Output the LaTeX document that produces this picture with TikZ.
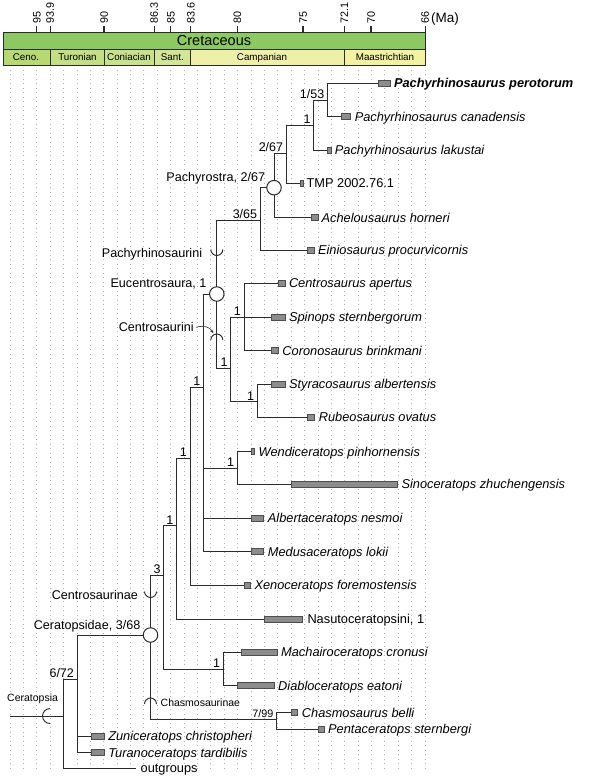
\documentclass[tikz,border=0pt]{standalone}
\usepackage{fontspec}
\setmainfont{Liberation Sans}
\usetikzlibrary{arrows.meta}
\definecolor{linec}{HTML}{2B2B2B}
\definecolor{gridc}{HTML}{B0B0B0}
\definecolor{rngfill}{HTML}{8C8C8C}
\definecolor{rngdraw}{HTML}{4D4D4D}
\definecolor{cret}{HTML}{8CC963}
\definecolor{ceno}{HTML}{B7D873}
\definecolor{turo}{HTML}{C4DE86}
\definecolor{coni}{HTML}{C9E18C}
\definecolor{sant}{HTML}{D3E697}
\definecolor{camp}{HTML}{EEEFA8}
\definecolor{maas}{HTML}{F2F2A2}
\begin{document}
\begin{tikzpicture}[x=1pt,y=-1pt,
 br/.style={draw=linec,line width=0.95pt},
 rng/.style={rectangle,draw=rngdraw,fill=rngfill,line width=0.5pt,minimum height=6pt,inner sep=0pt,anchor=west},
 tax/.style={anchor=west,inner sep=0pt,text height=9.2pt,text depth=0pt,font=\fontsize{12.8}{14}\selectfont\itshape},
 taxb/.style={tax,font=\fontsize{12.8}{14}\selectfont\bfseries\itshape},
 upl/.style={anchor=west,inner sep=0pt,text height=9.2pt,text depth=0pt,font=\fontsize{12.8}{14}\selectfont},
 clade/.style={anchor=east,inner sep=0pt,text height=9.2pt,text depth=0pt,font=\fontsize{12.6}{14}\selectfont},
 small/.style={inner sep=0pt,text height=7.5pt,text depth=0pt,font=\fontsize{10.5}{12}\selectfont},
 num/.style={anchor=south east,inner sep=0pt,font=\fontsize{12.5}{14}\selectfont},
 numsmall/.style={num,font=\fontsize{10.8}{12}\selectfont},
 ncirc/.style={circle,draw=linec,fill=white,line width=1pt,minimum size=14.5pt,inner sep=0pt},
 mrk/.style={draw=linec,line width=0.95pt},
 gridl/.style={draw=gridc,line width=0.6pt,dash pattern=on 1pt off 3.5pt},
 stagebox/.style={draw=linec,line width=0.8pt},
 stagetxt/.style={inner sep=0pt,text height=7pt,text depth=0pt,font=\fontsize{9.8}{11}\selectfont},
 ticktxt/.style={rotate=90,anchor=west,inner sep=0pt,text height=7.7pt,text depth=0pt,font=\fontsize{10.8}{12}\selectfont},
 pics/cupm/.style={code={\draw[mrk] (-6,0) .. controls (-6,3.3) and (-3.3,6) .. (0,6) .. controls (3.3,6) and (6,3.3) .. (6,0);}},
 pics/capm/.style={code={\draw[mrk] (-6,0) .. controls (-6,-3.3) and (-3.3,-6) .. (0,-6) .. controls (3.3,-6) and (6,-3.3) .. (6,0);}},
 pics/lparm/.style={code={\draw[mrk] (0,-7.5) .. controls (-4.1,-7.5) and (-7.5,-4.1) .. (-7.5,0) .. controls (-7.5,4.1) and (-4.1,7.5) .. (0,7.5);}}
]
\useasboundingbox (0,0) rectangle (600,778);

% grid
\foreach \m in {66,...,97}{\draw[gridl] ({36.7+(95-\m)*13.386},70) -- ({36.7+(95-\m)*13.386},770);}

% time scale
\filldraw[stagebox,fill=cret] (3,32.3) rectangle (425,49.3);
\node[inner sep=0pt,font=\fontsize{14.5}{16}\selectfont] (cretlab) at (214,41) {Cretaceous};
\foreach \a/\b/\c in {3/50/ceno,50/104/turo,104/154/coni,154/190.7/sant,190.7/344.3/camp,344.3/425/maas}{
  \filldraw[stagebox,fill=\c] (\a,49.3) rectangle (\b,65.7);}
\node[stagetxt] (s1) at (26,57.5) {Ceno.};
\node[stagetxt] (s2) at (77.5,57.5) {Turonian};
\node[stagetxt] (s3) at (129,57.5) {Coniacian};
\node[stagetxt] (s4) at (172.3,57.5) {Sant.};
\node[stagetxt] (s5) at (262,57.5) {Campanian};
\node[stagetxt] (s6) at (385,57.5) {Maastrichtian};
\foreach \x/\w/\t in {36.7/1.4/95,50/0.7/93.9,104/1.4/90,154/0.7/86.3,170.7/1.4/85,190.7/0.7/83.6,237.3/1.4/80,303/1.4/75,344.3/0.7/72.1,371/1.4/70,425/0.7/66}{
  \draw[draw=linec,line width=\w pt] (\x,26.3) -- (\x,32.3);
  \node[ticktxt] at (\x,23.3) {\t};}
\node[anchor=west,inner sep=0pt,font=\fontsize{13.5}{15}\selectfont] (ma) at (431,18.8) {(Ma)};

% tree node coordinates
\coordinate (root) at (9.5,716);
\coordinate (ncera) at (63.3,716);
\coordinate (n672) at (77.1,679.3);
\coordinate (ncs) at (150.5,635);
\coordinate (ncen) at (163.7,575);
\coordinate (nmd) at (223.3,669.3);
\coordinate (na) at (176.5,525.7);
\coordinate (nb) at (190,458.3);
\coordinate (npoly) at (203.5,387.3);
\coordinate (nws) at (237.3,468.3);
\coordinate (neuc) at (216.8,294);
\coordinate (nctr) at (230.7,368.3);
\coordinate (nc3) at (244,317.3);
\coordinate (nsty) at (257.3,401.7);
\coordinate (n365) at (260.3,220);
\coordinate (npr) at (274,187.7);
\coordinate (n267) at (286.3,153.3);
\coordinate (n1) at (313.7,125.7);
\coordinate (n153) at (327.5,100);
\coordinate (nch) at (276.7,719.3);
\coordinate (outg) at (135.5,768.3);

% range bars
\node[rng,minimum width=11.7pt] (bperot) at (378.3,83.3) {};
\node[rng,minimum width=9.6pt] (bcana) at (340.8,116.7) {};
\node[rng,minimum width=3.4pt] (blak) at (327.1,150) {};
\node[rng,minimum width=3pt] (btmp) at (300.4,183.3) {};
\node[rng,minimum width=6.6pt] (bache) at (311,217.7) {};
\node[rng,minimum width=6.4pt] (beini) at (307.3,250) {};
\node[rng,minimum width=6.7pt] (bcent) at (278.3,283.3) {};
\node[rng,minimum width=14.3pt] (bspin) at (270.7,317.3) {};
\node[rng,minimum width=7.6pt] (bcoro) at (270.7,350.7) {};
\node[rng,minimum width=14.3pt] (bstyr) at (270.7,384) {};
\node[rng,minimum width=7pt] (brube) at (307.3,417.3) {};
\node[rng,minimum width=3.3pt] (bwend) at (250.7,451.7) {};
\node[rng,minimum width=106.2pt] (bsino) at (290.8,484) {};
\node[rng,minimum width=12.6pt] (balb) at (250.8,518.3) {};
\node[rng,minimum width=12.6pt] (bmed) at (250.8,551.7) {};
\node[rng,minimum width=5.7pt] (bxen) at (244.3,585) {};
\node[rng,minimum width=38.2pt] (bnas) at (264.1,619.3) {};
\node[rng,minimum width=36.2pt] (bmach) at (240.5,652.3) {};
\node[rng,minimum width=36.3pt] (bdiab) at (237.4,685.7) {};
\node[rng,minimum width=6.2pt] (bchas) at (290.8,712.7) {};
\node[rng,minimum width=6.1pt] (bpent) at (317.6,729.3) {};
\node[rng,minimum width=13.3pt] (bzuni) at (90.5,736) {};
\node[rng,minimum width=13.3pt] (bturan) at (90.5,752.7) {};

% branches
\draw[br] (root) -- (ncera);
\draw[br] (ncera) |- (n672); \draw[br] (ncera) |- (outg);
\draw[br] (n672) |- (ncs); \draw[br] (n672) |- (bzuni.west); \draw[br] (n672) |- (bturan.west);
\draw[br] (ncs) |- (ncen); \draw[br] (ncs) |- (nch);
\draw[br] (ncen) |- (na); \draw[br] (ncen) |- (nmd);
\draw[br] (nmd) |- (bmach.west); \draw[br] (nmd) |- (bdiab.west);
\draw[br] (na) |- (nb); \draw[br] (na) |- (bnas.west);
\draw[br] (nb) |- (npoly); \draw[br] (nb) |- (bxen.west);
\draw[br] (npoly) |- (neuc); \draw[br] (npoly) |- (nws); \draw[br] (npoly) |- (balb.west); \draw[br] (npoly) |- (bmed.west);
\draw[br] (nws) |- (bwend.west); \draw[br] (nws) |- (bsino.west);
\draw[br] (neuc) |- (n365); \draw[br] (neuc) |- (nctr);
\draw[br] (nctr) |- (nc3); \draw[br] (nctr) |- (nsty);
\draw[br] (nc3) |- (bcent.west); \draw[br] (nc3) -- (bspin.west); \draw[br] (nc3) |- (bcoro.west);
\draw[br] (nsty) |- (bstyr.west); \draw[br] (nsty) |- (brube.west);
\draw[br] (n365) |- (npr); \draw[br] (n365) |- (beini.west);
\draw[br] (npr) |- (n267); \draw[br] (npr) |- (bache.west);
\draw[br] (n267) |- (n1); \draw[br] (n267) |- (btmp.west);
\draw[br] (n1) |- (n153); \draw[br] (n1) |- (blak.west);
\draw[br] (n153) |- (bperot.west); \draw[br] (n153) |- (bcana.west);
\draw[br] (nch) |- (bchas.west); \draw[br] (nch) |- (bpent.west);

% circled nodes
\node[ncirc] (cpr) at (npr) {};
\node[ncirc] (ceuc) at (neuc) {};
\node[ncirc] (ccs) at (ncs) {};

% clade markers
\pic at (216.8,249.5) {cupm};
\pic at (150.5,591.5) {cupm};
\pic at (216.8,340) {capm};
\pic at (150.5,704) {capm};
\pic at (50,716) {lparm};

% taxon labels
\node[taxb] (tperot) at ([xshift=3.3pt]bperot.east) {Pachyrhinosaurus perotorum};
\node[tax] (tcana) at ([xshift=3.7pt]bcana.east) {Pachyrhinosaurus canadensis};
\node[tax] (tlak) at ([xshift=3.7pt]blak.east) {Pachyrhinosaurus lakustai};
\node[upl] (ttmp) at ([xshift=2.5pt]btmp.east) {TMP 2002.76.1};
\node[tax] (tache) at ([xshift=3.3pt]bache.east) {Achelousaurus horneri};
\node[tax] (teini) at ([xshift=3.7pt]beini.east) {Einiosaurus procurvicornis};
\node[tax] (tcent) at ([xshift=3.3pt]bcent.east) {Centrosaurus apertus};
\node[tax] (tspin) at ([xshift=3.3pt]bspin.east) {Spinops sternbergorum};
\node[tax] (tcoro) at ([xshift=3.4pt]bcoro.east) {Coronosaurus brinkmani};
\node[tax] (tstyr) at ([xshift=3.3pt]bstyr.east) {Styracosaurus albertensis};
\node[tax] (trube) at ([xshift=3.8pt]brube.east) {Rubeosaurus ovatus};
\node[tax] (twend) at ([xshift=4pt]bwend.east) {Wendiceratops pinhornensis};
\node[tax] (tsino) at ([xshift=3.8pt]bsino.east) {Sinoceratops zhuchengensis};
\node[tax] (talb) at ([xshift=3.8pt]balb.east) {Albertaceratops nesmoi};
\node[tax] (tmed) at ([xshift=3.8pt]bmed.east) {Medusaceratops lokii};
\node[tax] (txen) at ([xshift=3.8pt]bxen.east) {Xenoceratops foremostensis};
\node[upl] (tnas) at ([xshift=4.5pt]bnas.east) {Nasutoceratopsini, 1};
\node[tax] (tmach) at ([xshift=3.8pt]bmach.east) {Machairoceratops cronusi};
\node[tax] (tdiab) at ([xshift=3.8pt]bdiab.east) {Diabloceratops eatoni};
\node[tax] (tchas) at ([xshift=4.2pt]bchas.east) {Chasmosaurus belli};
\node[tax] (tpent) at ([xshift=3.8pt]bpent.east) {Pentaceratops sternbergi};
\node[tax] (tzuni) at ([xshift=3.8pt]bzuni.east) {Zuniceratops christopheri};
\node[tax] (tturan) at ([xshift=3.8pt]bturan.east) {Turanoceratops tardibilis};
\node[upl] (tout) at ([xshift=5pt]outg) {outgroups};

% clade labels
\node[clade] (lpr) at (265.3,176.7) {Pachyrostra, 2/67};
\node[clade] (leuc) at (206.7,283.3) {Eucentrosaura, 1};
\node[clade] (lcs) at (140.5,625) {Ceratopsidae, 3/68};
\node[clade] (lpach) at (202.3,253.3) {Pachyrhinosaurini};
\node[clade] (lctr) at (194,327.3) {Centrosaurini};
\node[clade] (lcen) at (138.2,595) {Centrosaurinae};
\node[small,anchor=west] (lchas) at (160.5,702.7) {Chasmosaurinae};
\node[small,anchor=west] (lcera) at (7,697.3) {Ceratopsia};
\coordinate (mctrtip) at (213.3,333.3);
\draw[draw=linec,line width=0.6pt,-{Stealth[length=3.5pt,width=3pt]}] ([xshift=2pt]lctr.east) .. controls (204,325) and (210,327) .. (mctrtip);

% support values
\node[num] at ([xshift=-3pt,yshift=1.5pt]n153) {1/53};
\node[num] at ([xshift=-3pt,yshift=1.5pt]n1) {1};
\node[num] at ([xshift=-3pt,yshift=1.5pt]n267) {2/67};
\node[num] at ([xshift=-3pt,yshift=1.5pt]n365) {3/65};
\node[num] at ([xshift=-3pt,yshift=1.5pt]nctr) {1};
\node[num] at ([xshift=-3pt,yshift=1.5pt]nc3) {1};
\node[num] at ([xshift=-3pt,yshift=1.5pt]nsty) {1};
\node[num] at ([xshift=-3pt,yshift=1.5pt]nws) {1};
\node[num] at ([xshift=-3pt,yshift=1.5pt]npoly) {1};
\node[num] at ([xshift=-3pt,yshift=1.5pt]nb) {1};
\node[num] at ([xshift=-3pt,yshift=1.5pt]na) {1};
\node[num] at ([xshift=-3pt,yshift=1.5pt]ncen) {3};
\node[num] at ([xshift=-3pt,yshift=1.5pt]nmd) {1};
\node[num] at ([xshift=-3pt,yshift=1.5pt]n672) {6/72};
\node[numsmall] at ([xshift=-3pt,yshift=1.5pt]nch) {7/99};
\end{tikzpicture}
\end{document}
